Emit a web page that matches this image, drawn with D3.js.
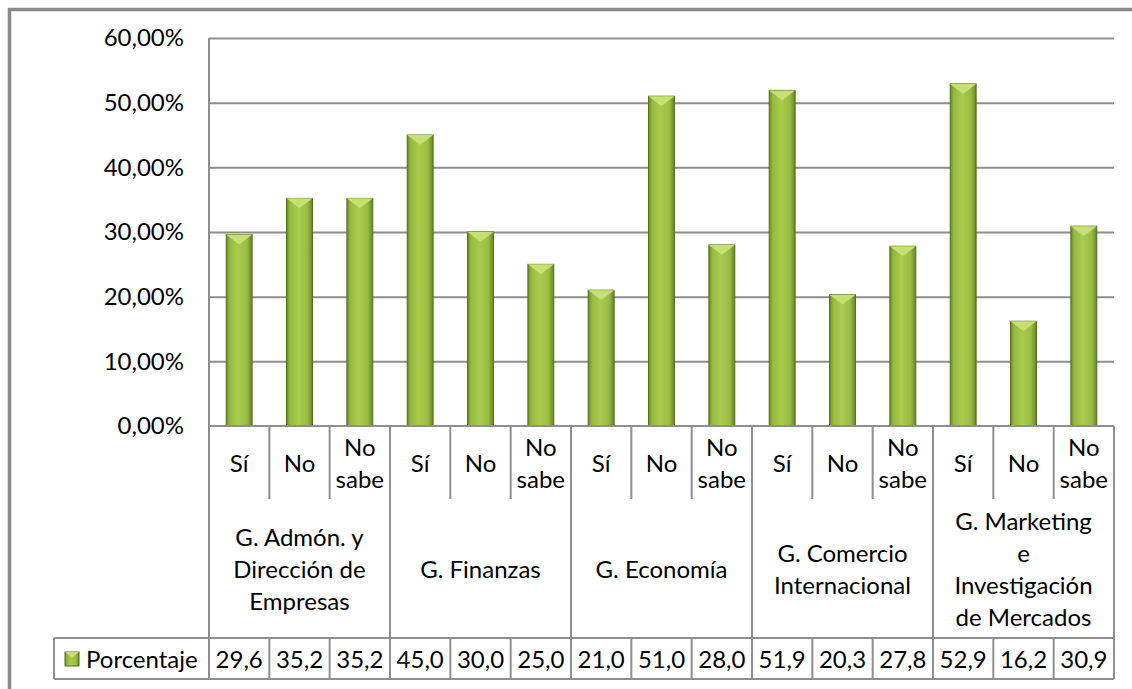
<!DOCTYPE html>
<html>
<head>
<meta charset="utf-8">
<script src="https://cdn.jsdelivr.net/npm/d3@7"></script>
<style>
  body { margin: 0; background: #fff; }
  svg { display: block; font-family: Lato, "Noto Sans", sans-serif; }
</style>
</head>
<body>
<svg width="1132" height="689"></svg>
<script>
// chart data
var groups = [
  ["G. Admón. y", "Dirección de", "Empresas"],
  ["G. Finanzas"],
  ["G. Economía"],
  ["G. Comercio", "Internacional"],
  ["G. Marketing", "e", "Investigación", "de Mercados"]
];
var answers = [["Sí"], ["No"], ["No", "sabe"]];
var values = [29.6, 35.2, 35.2, 45.0, 30.0, 25.0, 21.0, 51.0, 28.0, 51.9, 20.3, 27.8, 52.9, 16.2, 30.9];
var yTicks = [0, 10, 20, 30, 40, 50, 60];
var seriesName = "Porcentaje";

var svg = d3.select("svg");
var fontSize = 24;
var lineH = 32;
var gridColor = "#8e8e8e";

var plot = { left: 209, right: 1114, top: 38, bottom: 426 };
var row1 = 499, row2 = 638, row3 = 679, legendLeft = 54;

// list of 15 bars (group, answer)
var cats = [];
groups.forEach(function (g, gi) {
  answers.forEach(function (a, ai) {
    cats.push({ g: gi, a: ai, v: values[gi * answers.length + ai] });
  });
});

var x = d3.scaleBand()
  .domain(d3.range(cats.length))
  .range([plot.left, plot.right])
  .paddingInner(0.57)
  .paddingOuter(0.285);
var slot = d3.scaleBand().domain(d3.range(cats.length)).range([plot.left, plot.right]);
var gx = d3.scaleBand().domain(d3.range(groups.length)).range([plot.left, plot.right]);
var y = d3.scaleLinear().domain([0, 60]).range([plot.bottom, plot.top]);

var fmt = function (v, f) { return d3.format(f)(v).replace(".", ","); };

// defs: bar gradient
var defs = svg.append("defs");
var grad = defs.append("linearGradient").attr("id", "barGrad")
  .attr("x1", "0%").attr("x2", "100%").attr("y1", "0%").attr("y2", "0%");
[["0%", "#6c8a28"], ["14%", "#95bb3e"], ["45%", "#a7cc4e"], ["80%", "#98bd41"], ["100%", "#66842a"]]
  .forEach(function (s) { grad.append("stop").attr("offset", s[0]).attr("stop-color", s[1]); });

// outer chart frame (only top and left are visible)
svg.append("path")
  .attr("d", "M9.5,1200 L9.5,9.5 L1300,9.5")
  .attr("fill", "none").attr("stroke", "#8a8a8a").attr("stroke-width", 3.5);

// gridlines
svg.append("g")
  .attr("transform", "translate(" + plot.left + ",0)")
  .call(d3.axisRight(y).tickValues(yTicks.slice(1)).tickSize(plot.right - plot.left).tickFormat(""))
  .call(function (g) {
    g.select(".domain").remove();
    g.selectAll("line").attr("stroke", gridColor).attr("stroke-width", 2);
  });

// y axis labels
svg.append("g")
  .attr("transform", "translate(" + plot.left + ",0)")
  .call(d3.axisLeft(y).tickValues(yTicks).tickSize(0).tickPadding(25)
    .tickFormat(function (d) { return fmt(d, ".2f") + "%"; }))
  .call(function (g) {
    g.select(".domain").remove();
    g.selectAll("text").attr("font-size", fontSize).attr("font-family", "Lato").attr("fill", "#000");
  });

// bars
var bars = svg.append("g").selectAll("g.bar").data(cats).enter().append("g").attr("class", "bar");
function drawBar(sel, bx, by, bw, bh) {
  sel.append("rect")
    .attr("x", bx).attr("y", by).attr("width", bw).attr("height", bh)
    .attr("fill", "url(#barGrad)").attr("stroke", "#566f22").attr("stroke-width", 1);
  sel.append("path")
    .attr("d", "M" + bx + "," + by + "L" + (bx + bw) + "," + by + "L" + (bx + bw / 2) + "," + (by + Math.min(bw * 0.38, bh)) + "Z")
    .attr("fill", "#c7e073");
}
bars.each(function (d, i) {
  var b = d3.select(this);
  drawBar(b, x(i), y(d.v), x.bandwidth(), y(0) - y(d.v));
});

// y axis line
var lines = svg.append("g").attr("stroke", gridColor).attr("stroke-width", 2).attr("fill", "none");
lines.append("line").attr("x1", plot.left).attr("x2", plot.left).attr("y1", plot.top).attr("y2", row3);
lines.append("line").attr("x1", plot.left).attr("x2", plot.right).attr("y1", plot.bottom).attr("y2", plot.bottom);
lines.append("line").attr("x1", plot.right).attr("x2", plot.right).attr("y1", plot.bottom).attr("y2", row3);
lines.append("line").attr("x1", legendLeft).attr("x2", plot.right).attr("y1", row2).attr("y2", row2);
lines.append("line").attr("x1", legendLeft).attr("x2", plot.right).attr("y1", row3).attr("y2", row3);
lines.append("line").attr("x1", legendLeft).attr("x2", legendLeft).attr("y1", row2).attr("y2", row3);

// category separators
cats.forEach(function (d, i) {
  if (i === 0) return;
  var sx = slot(i);
  var isGroup = d.a === 0;
  lines.append("line").attr("x1", sx).attr("x2", sx)
    .attr("y1", plot.bottom).attr("y2", isGroup ? row3 : row1);
  if (!isGroup) lines.append("line").attr("x1", sx).attr("x2", sx).attr("y1", row2).attr("y2", row3);
});

function multiline(g, linesArr, cx, cy) {
  var t = g.append("text").attr("text-anchor", "middle").attr("font-size", fontSize).attr("fill", "#000");
  var n = linesArr.length;
  linesArr.forEach(function (s, k) {
    t.append("tspan").attr("x", cx).attr("y", cy + (k - (n - 1) / 2) * lineH).attr("dy", "0.35em").text(s);
  });
}

var txt = svg.append("g");
// answer labels
cats.forEach(function (d, i) {
  multiline(txt, answers[d.a], slot(i) + slot.bandwidth() / 2, (plot.bottom + row1) / 2 + 1);
});
// group labels
groups.forEach(function (g, gi) {
  multiline(txt, g, gx(gi) + gx.bandwidth() / 2, (row1 + row2) / 2 + 1);
});
// data row
cats.forEach(function (d, i) {
  multiline(txt, [fmt(d.v, ".1f")], slot(i) + slot.bandwidth() / 2, (row2 + row3) / 2 + 1);
});
// legend
var lg = svg.append("g");
drawBar(lg, 65, 652, 14, 14);
lg.append("text").attr("x", 86).attr("y", (row2 + row3) / 2 + 1).attr("dy", "0.35em")
  .attr("font-size", fontSize).attr("fill", "#000").text(seriesName);
</script>
</body>
</html>
